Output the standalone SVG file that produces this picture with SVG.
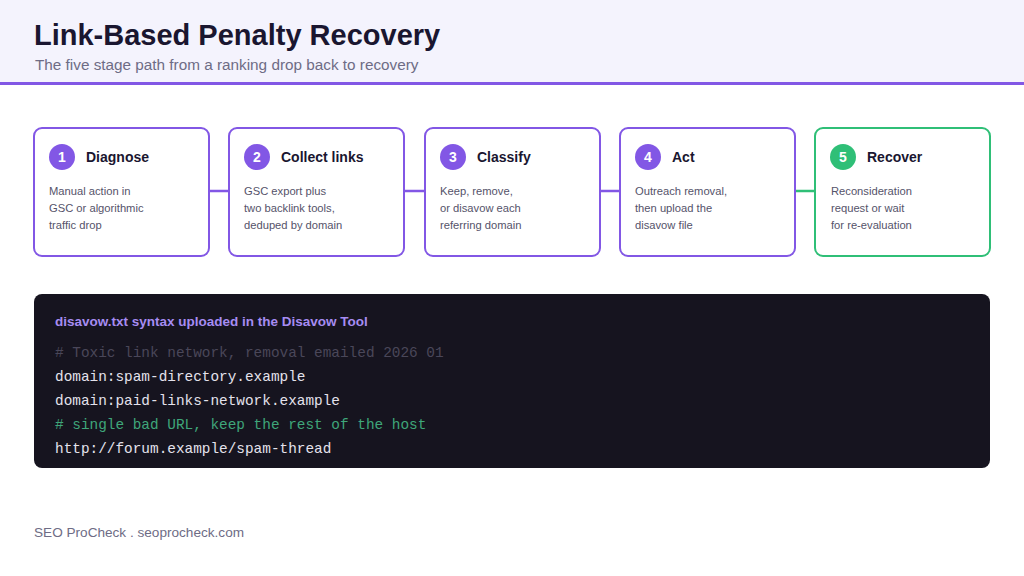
<svg xmlns="http://www.w3.org/2000/svg" width="1024" height="576" viewBox="0 0 1024 576">
<style>
.title{font-family:"Liberation Sans",Arial,sans-serif;font-weight:700;font-size:29px;fill:#1a1630}
.sub{font-family:"Liberation Sans",Arial,sans-serif;font-size:15.3px;fill:#6e6c85}
.card{fill:#ffffff;stroke:#8257e5;stroke-width:2}
.card.g{stroke:#2fbf77}
.num{fill:#8257e5}
.num.g{fill:#2fbf77}
.numt{font-family:"Liberation Sans",Arial,sans-serif;font-weight:700;font-size:14px;fill:#ffffff;text-anchor:middle}
.head{font-family:"Liberation Sans",Arial,sans-serif;font-weight:700;font-size:14px;fill:#1a1630}
.body{font-family:"Liberation Sans",Arial,sans-serif;font-size:11.2px;fill:#55536a}
.conn{stroke:#8257e5;stroke-width:2.5}
.conn.g{stroke:#2fbf77}
.codeh{font-family:"Liberation Sans",Arial,sans-serif;font-weight:700;font-size:13.5px;fill:#a68cf2}
.code{font-family:"Liberation Mono","Courier New",monospace;font-size:14.4px;fill:#e4e2ec}
.cm1{fill:#4a4759}
.cm2{fill:#3fa67a}
.foot{font-family:"Liberation Sans",Arial,sans-serif;font-size:13.6px;fill:#6e6c85}
</style>
<rect x="0" y="0" width="1024" height="576" fill="#ffffff"/>
<g id="header">
<rect x="0" y="0" width="1024" height="82" fill="#f4f3fd"/>
<rect x="0" y="82" width="1024" height="3" fill="#8257e5"/>
<text class="title" x="34" y="45">Link-Based Penalty Recovery</text>
<text class="sub" x="35" y="70">The five stage path from a ranking drop back to recovery</text>
</g>
<g id="connectors">
<line class="conn" x1="209" y1="191" x2="229" y2="191"/>
<line class="conn" x1="404" y1="191" x2="425" y2="191"/>
<line class="conn" x1="600" y1="191" x2="620" y2="191"/>
<line class="conn g" x1="795" y1="191" x2="815" y2="191"/>
</g>
<g id="step1">
<rect class="card" x="34" y="128" width="175" height="128" rx="8"/>
<circle class="num" cx="62" cy="157" r="13"/>
<text class="numt" x="62" y="162">1</text>
<text class="head" x="86" y="162">Diagnose</text>
<text class="body" x="49" y="195">Manual action in</text>
<text class="body" x="49" y="212">GSC or algorithmic</text>
<text class="body" x="49" y="229">traffic drop</text>
</g>
<g id="step2">
<rect class="card" x="229" y="128" width="175" height="128" rx="8"/>
<circle class="num" cx="257" cy="157" r="13"/>
<text class="numt" x="257" y="162">2</text>
<text class="head" x="281" y="162">Collect links</text>
<text class="body" x="244" y="195">GSC export plus</text>
<text class="body" x="244" y="212">two backlink tools,</text>
<text class="body" x="244" y="229">deduped by domain</text>
</g>
<g id="step3">
<rect class="card" x="425" y="128" width="175" height="128" rx="8"/>
<circle class="num" cx="453" cy="157" r="13"/>
<text class="numt" x="453" y="162">3</text>
<text class="head" x="477" y="162">Classify</text>
<text class="body" x="440" y="195">Keep, remove,</text>
<text class="body" x="440" y="212">or disavow each</text>
<text class="body" x="440" y="229">referring domain</text>
</g>
<g id="step4">
<rect class="card" x="620" y="128" width="175" height="128" rx="8"/>
<circle class="num" cx="648" cy="157" r="13"/>
<text class="numt" x="648" y="162">4</text>
<text class="head" x="672" y="162">Act</text>
<text class="body" x="635" y="195">Outreach removal,</text>
<text class="body" x="635" y="212">then upload the</text>
<text class="body" x="635" y="229">disavow file</text>
</g>
<g id="step5">
<rect class="card g" x="815" y="128" width="175" height="128" rx="8"/>
<circle class="num g" cx="843" cy="157" r="13"/>
<text class="numt" x="843" y="162">5</text>
<text class="head" x="867" y="162">Recover</text>
<text class="body" x="831" y="195">Reconsideration</text>
<text class="body" x="831" y="212">request or wait</text>
<text class="body" x="831" y="229">for re-evaluation</text>
</g>
<g id="code">
<rect x="34" y="294" width="956" height="174" rx="8" fill="#16141f"/>
<text class="codeh" x="55" y="326">disavow.txt syntax uploaded in the Disavow Tool</text>
<text class="code cm1" x="55" y="357"># Toxic link network, removal emailed 2026 01</text>
<text class="code" x="55" y="381">domain:spam-directory.example</text>
<text class="code" x="55" y="405">domain:paid-links-network.example</text>
<text class="code cm2" x="55" y="429"># single bad URL, keep the rest of the host</text>
<text class="code" x="55" y="453">http://forum.example/spam-thread</text>
</g>
<g id="footer">
<text class="foot" x="34" y="537">SEO ProCheck . seoprocheck.com</text>
</g>
</svg>
